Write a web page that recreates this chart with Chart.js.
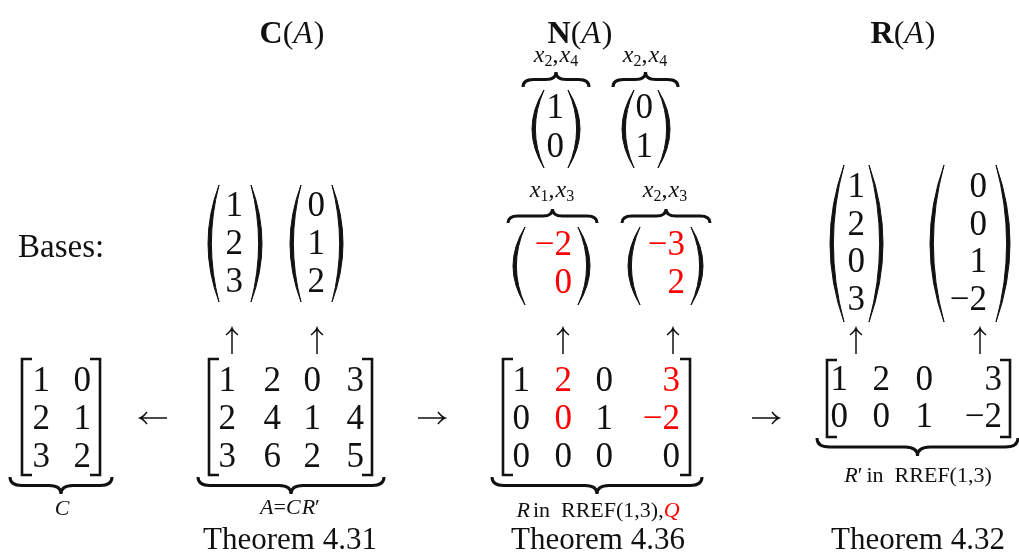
<!DOCTYPE html>
<html>
<head>
<meta charset="utf-8">
<script src="https://cdn.jsdelivr.net/npm/chart.js@4.4.1/dist/chart.umd.min.js"></script>
<style>
  html, body { margin: 0; padding: 0; background: #fff; }
  #wrap { width: 1019px; height: 556px; }
</style>
</head>
<body>
<div id="wrap"><canvas id="chart" width="1019" height="556"></canvas></div>
<script>
// matrices and vectors
const matC = [[1, 0], [2, 1], [3, 2]];
const matA = [[1, 2, 0, 3], [2, 4, 1, 4], [3, 6, 2, 5]];
const matR = [[1, 2, 0, 3], [0, 0, 1, -2], [0, 0, 0, 0]];
const matRp = [[1, 2, 0, 3], [0, 0, 1, -2]];
const colBasis = [[1, 2, 3], [0, 1, 2]];
const freeVecs = [[1, 0], [0, 1]];
const nullBasis = [[-2, 0], [-3, 2]];
const rowBasis = [[1, 2, 0, 3], [0, 0, 1, -2]];

const titles = ["C", "N", "R"];
const theorems = ["Theorem 4.31", "Theorem 4.36", "Theorem 4.32"];
const freeLabels = [["2", "4"], ["2", "4"]];
const pivotLabels = [["1", "3"], ["2", "3"]];

// which entries of R are red (pivot-free columns)
const redR = [[0, 1, 0, 1], [0, 1, 0, 1], [0, 0, 0, 0]];

const RED = "#ff0000";
const INK = "#111";
const SERIF = "'Liberation Serif', 'DejaVu Serif', serif";
const ENTRY_FONT = "35px " + SERIF;

// layout: right edges of columns and row centres for each block
const blocks = [
  { vals: matC, cols: [50, 91], rows: [381, 419, 457] },
  { vals: matA, cols: [236, 281, 321, 364], rows: [381, 419, 457] },
  { vals: matR, cols: [530, 572, 613, 680], rows: [381, 419, 457], red: redR },
  { vals: matRp, cols: [848, 890, 933, 1002], rows: [380, 417] },
  { vals: colBasis.map(v => v.map(e => [e])), vec: true, cols: [[243], [325]], rows: [206, 244, 282] },
  { vals: freeVecs.map(v => v.map(e => [e])), vec: true, cols: [[564], [653]], rows: [108, 147] },
  { vals: nullBasis.map(v => v.map(e => [e])), vec: true, cols: [[572], [685]], rows: [245, 283], allRed: true },
  { vals: rowBasis.map(v => v.map(e => [e])), vec: true, cols: [[865], [987]], rows: [187, 225, 262, 300] }
];

function entryPoints() {
  const pts = [];
  blocks.forEach(b => {
    if (b.vec) {
      b.vals.forEach((vec, k) => {
        vec.forEach((row, i) => {
          pts.push({ x: b.cols[k][0], y: b.rows[i], v: row[0], red: !!b.allRed });
        });
      });
    } else {
      b.vals.forEach((row, i) => {
        row.forEach((v, j) => {
          pts.push({ x: b.cols[j], y: b.rows[i], v: v, red: !!(b.red && b.red[i][j]) });
        });
      });
    }
  });
  return pts;
}

function fmt(v) {
  return v < 0 ? "\u2212" + Math.abs(v) : String(v);
}

function rich(ctx, segs, cx, cy) {
  let w = 0;
  segs.forEach(s => { ctx.font = s.font; w += ctx.measureText(s.t).width + (s.gap || 0); });
  let x = cx - w / 2;
  ctx.textBaseline = "alphabetic";
  ctx.textAlign = "left";
  segs.forEach(s => {
    ctx.font = s.font;
    ctx.fillStyle = s.color || INK;
    ctx.fillText(s.t, x, cy + (s.dy || 0));
    x += ctx.measureText(s.t).width + (s.gap || 0);
  });
}

function bracket(ctx, x, y1, y2, side) {
  const d = side === "L" ? 10 : -10;
  ctx.beginPath();
  ctx.moveTo(x + d, y1);
  ctx.lineTo(x, y1);
  ctx.lineTo(x, y2);
  ctx.lineTo(x + d, y2);
  ctx.lineWidth = 2.6;
  ctx.lineJoin = "miter";
  ctx.strokeStyle = INK;
  ctx.stroke();
}

function paren(ctx, x, y1, y2, side, w) {
  // x = extreme of the bulge, ends sit w away
  const s = side === "L" ? 1 : -1;
  const xe = x + s * w;
  const mid = (y1 + y2) / 2;
  const t = 3.4;
  ctx.beginPath();
  ctx.moveTo(xe, y1);
  ctx.quadraticCurveTo(2 * x - xe, mid, xe, y2);
  ctx.quadraticCurveTo(2 * (x + s * t) - xe, mid, xe, y1);
  ctx.fillStyle = INK;
  ctx.fill();
  ctx.lineWidth = 1;
  ctx.strokeStyle = INK;
  ctx.stroke();
}

function brace(ctx, x1, x2, y, h, dir) {
  const m = (x1 + x2) / 2, r = h / 2;
  const yf = y + r * dir;
  ctx.beginPath();
  ctx.moveTo(x1, y);
  ctx.quadraticCurveTo(x1, yf, x1 + r * 1.4, yf);
  ctx.lineTo(m - r * 1.4, yf);
  ctx.quadraticCurveTo(m, yf, m, y + h * dir);
  ctx.quadraticCurveTo(m, yf, m + r * 1.4, yf);
  ctx.lineTo(x2 - r * 1.4, yf);
  ctx.quadraticCurveTo(x2, yf, x2, y);
  ctx.lineWidth = 3;
  ctx.lineCap = "butt";
  ctx.strokeStyle = INK;
  ctx.stroke();
}

function upArrow(ctx, x, y1, y2) {
  ctx.beginPath();
  ctx.moveTo(x, y2);
  ctx.lineTo(x, y1);
  ctx.moveTo(x - 6, y1 + 7);
  ctx.quadraticCurveTo(x - 1, y1 + 3, x, y1);
  ctx.quadraticCurveTo(x + 1, y1 + 3, x + 6, y1 + 7);
  ctx.lineWidth = 1.5;
  ctx.strokeStyle = INK;
  ctx.stroke();
}

function hArrow(ctx, x1, x2, y, left) {
  const tip = left ? x1 : x2, s = left ? 1 : -1;
  ctx.beginPath();
  ctx.moveTo(x1, y);
  ctx.lineTo(x2, y);
  ctx.moveTo(tip + s * 7, y - 6);
  ctx.quadraticCurveTo(tip + s * 3, y - 1, tip, y);
  ctx.quadraticCurveTo(tip + s * 3, y + 1, tip + s * 7, y + 6);
  ctx.lineWidth = 1.5;
  ctx.strokeStyle = INK;
  ctx.stroke();
}

const diagram = {
  id: "diagram",
  afterDatasetsDraw(chart) {
    const ctx = chart.ctx;
    const X = v => chart.scales.x.getPixelForValue(v);
    const Y = v => chart.scales.y.getPixelForValue(v);
    ctx.save();

    // entries, placed from the dataset points
    const meta = chart.getDatasetMeta(0);
    const data = chart.data.datasets[0].data;
    ctx.font = ENTRY_FONT;
    ctx.textAlign = "right";
    ctx.textBaseline = "middle";
    meta.data.forEach((pt, i) => {
      const d = data[i];
      ctx.fillStyle = d.red ? RED : INK;
      ctx.fillText(fmt(d.v), pt.x, pt.y + 1);
    });

    // titles
    const tf = "32px " + SERIF;
    [292, 580, 903].forEach((cx, i) => {
      rich(ctx, [
        { t: titles[i], font: "bold " + tf },
        { t: "(", font: tf },
        { t: "A", font: "italic " + tf, gap: 1 },
        { t: ")", font: tf }
      ], X(cx), Y(43));
    });

    // Bases:
    ctx.font = "33px " + SERIF;
    ctx.fillStyle = INK;
    ctx.textAlign = "left";
    ctx.textBaseline = "alphabetic";
    ctx.fillText("Bases:", X(18), Y(257));

    // theorems
    ctx.font = "31px " + SERIF;
    ctx.textAlign = "center";
    [290, 598, 918].forEach((cx, i) => ctx.fillText(theorems[i], X(cx), Y(549)));

    // brackets
    [[22, 100, 359, 475], [209, 372, 359, 475], [503, 690, 359, 475], [827, 1010, 360, 437]]
      .forEach(b => {
        bracket(ctx, X(b[0]), Y(b[2]), Y(b[3]), "L");
        bracket(ctx, X(b[1]), Y(b[2]), Y(b[3]), "R");
      });

    // parentheses
    [[208, 262, 185, 302, 11], [290, 343, 185, 302, 11],
     [532, 580, 90, 168, 12], [622, 670, 90, 168, 12],
     [513, 590, 227, 305, 12], [628, 703, 227, 305, 12],
     [830, 883, 165, 322, 14], [930, 1010, 165, 322, 14]]
      .forEach(p => {
        paren(ctx, X(p[0]), Y(p[2]), Y(p[3]), "L", p[4]);
        paren(ctx, X(p[1]), Y(p[2]), Y(p[3]), "R", p[4]);
      });

    // under braces
    brace(ctx, X(10), X(112), Y(477), 17, 1);
    brace(ctx, X(198), X(384), Y(477), 17, 1);
    brace(ctx, X(492), X(702), Y(477), 17, 1);
    brace(ctx, X(817), X(1018), Y(438), 18, 1);
    // over braces
    brace(ctx, X(523), X(589), Y(87), 15, -1);
    brace(ctx, X(613), X(678), Y(87), 15, -1);
    brace(ctx, X(508), X(597), Y(223), 14, -1);
    brace(ctx, X(622), X(710), Y(223), 14, -1);

    // brace labels
    const lf = "22px " + SERIF, li = "italic 22px " + SERIF;
    const vf = "24px " + SERIF, vi = "italic 24px " + SERIF, sf = "16px " + SERIF;
    rich(ctx, [{ t: "C", font: li }], X(62), Y(515));
    rich(ctx, [
      { t: "A", font: li }, { t: "=", font: lf }, { t: "C", font: li, gap: 1 }, { t: "R", font: li }, { t: "\u2032", font: lf }
    ], X(290), Y(514));
    rich(ctx, [
      { t: "R", font: li, gap: 3 }, { t: "in  RREF(1,3),", font: lf }, { t: "Q", font: li, color: RED }
    ], X(598), Y(517));
    rich(ctx, [
      { t: "R", font: li }, { t: "\u2032", font: lf, gap: 4 }, { t: "in  RREF(1,3)", font: lf }
    ], X(918), Y(482));

    const varLabel = (subs, cx, cy) => rich(ctx, [
      { t: "x", font: vi }, { t: subs[0], font: sf, dy: 4 }, { t: ",", font: vf, gap: 1 },
      { t: "x", font: vi }, { t: subs[1], font: sf, dy: 4 }
    ], X(cx), Y(cy));
    varLabel(freeLabels[0], 556, 62);
    varLabel(freeLabels[1], 645, 62);
    varLabel(pivotLabels[0], 552, 197);
    varLabel(pivotLabels[1], 665, 197);

    // arrows
    [232, 317, 563, 673, 856, 980].forEach(x => upArrow(ctx, X(x), Y(328), Y(354)));
    hArrow(ctx, X(140), X(167), Y(418), true);
    hArrow(ctx, X(418), X(445), Y(418), false);
    hArrow(ctx, X(752), X(779), Y(418), false);

    ctx.restore();
  }
};

const ctx = document.getElementById("chart").getContext("2d");
new Chart(ctx, {
  type: "scatter",
  data: {
    datasets: [{
      data: entryPoints(),
      pointRadius: 0,
      pointHoverRadius: 0,
      showLine: false
    }]
  },
  options: {
    responsive: false,
    animation: false,
    events: [],
    layout: { padding: 0 },
    plugins: { legend: { display: false }, tooltip: { enabled: false } },
    scales: {
      x: { type: "linear", min: 0, max: 1019, display: false },
      y: { type: "linear", min: 0, max: 556, reverse: true, display: false }
    }
  },
  plugins: [diagram]
});
</script>
</body>
</html>
